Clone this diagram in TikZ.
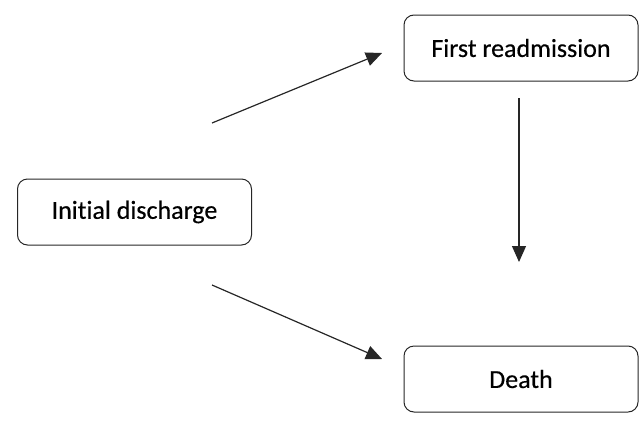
\documentclass[tikz,border=0pt]{standalone}
\usepackage{fontspec}
\setmainfont{Carlito}[Ligatures=NoCommon,FakeBold=0.4]
\usetikzlibrary{arrows.meta}
\begin{document}
\begin{tikzpicture}[x=1pt,y=-1pt,
  statebox/.style={draw=black!85, line width=1pt, rounded corners=10pt, minimum width=234pt, minimum height=66pt, inner sep=0pt, font=\fontsize{26}{30}\selectfont, text=black},
  flow/.style={line width=1.2pt, draw=black!85, -{Triangle[length=16pt,width=14pt]}}]
\useasboundingbox (0,0) rectangle (639,442);
\node[statebox] (init) at (134.5,212) {Initial discharge};
\node[statebox] (first) at (521,48) {First readmission};
\node[statebox] (death) at (521,379) {Death};
\coordinate (a1s) at (212,123);
\coordinate (a1e) at (382,53);
\coordinate (a2s) at (212,285);
\coordinate (a2e) at (382,359);
\coordinate (a3s) at (519,98);
\coordinate (a3e) at (519,262);
\draw[flow] (a1s) -- (a1e);
\draw[flow] (a2s) -- (a2e);
\draw[flow] (a3s) -- (a3e);
\end{tikzpicture}
\end{document}
